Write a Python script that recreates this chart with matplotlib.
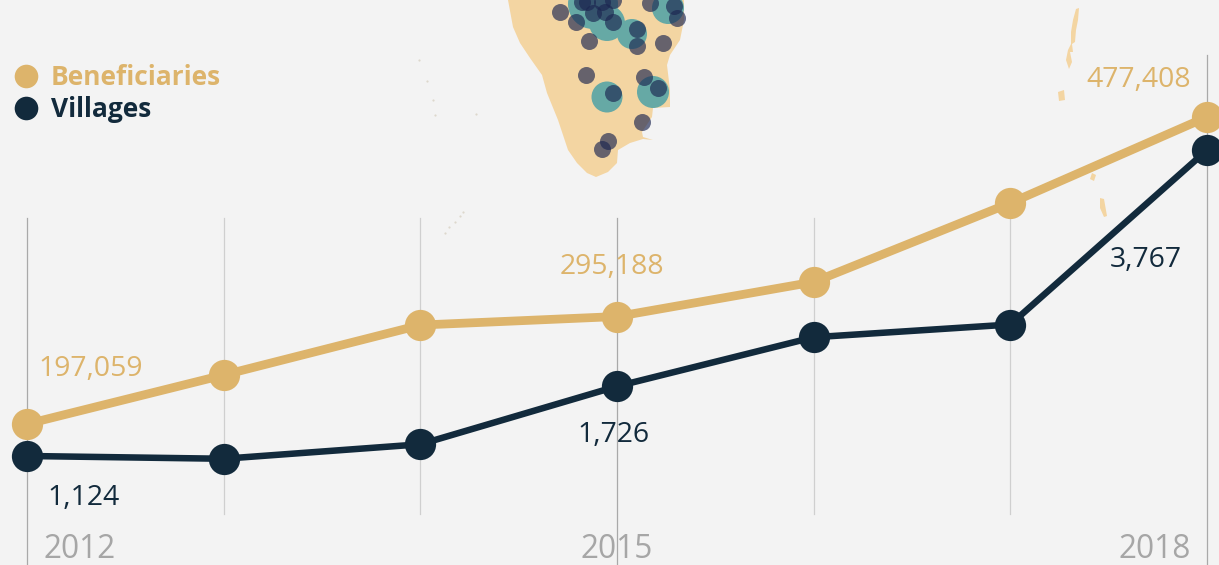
import matplotlib
matplotlib.use("Agg")
import matplotlib.pyplot as plt
from matplotlib.lines import Line2D

# chart data
years = [2012, 2013, 2014, 2015, 2016, 2017, 2018]
beneficiaries = [197059, 241800, 287400, 295188, 326700, 398800, 477408]
villages = [1124, 1100, 1225, 1726, 2150, 2260, 3767]
tick_years = [2012, 2015, 2018]

# backdrop map, traced in picture pixels
coast = [(508, 0), (513, 27), (520, 43), (530, 58), (542, 75), (547, 93), (558, 120),
         (562, 132), (568, 150), (577, 163), (587, 173), (596, 177), (608, 172),
         (617, 163), (618, 150), (630, 143), (643, 139), (653, 140), (643, 137),
         (642, 132), (652, 117), (653, 108), (670, 107), (670, 90), (667, 65),
         (670, 55), (680, 40), (684, 20), (684, 0)]
big_x = [607, 653, 632, 593, 607, 668]
big_y = [97, 92, 34, 4, 23, 8]
big_r = [15.5, 16, 15, 25, 18, 16]
small_x = [560, 576, 589, 613, 637, 637, 663, 586, 613, 644, 658, 642, 608, 602,
           677, 674, 650, 605, 593, 602, 587, 613, 582]
small_y = [12, 22, 41, 22, 29, 46, 43, 75, 93, 77, 88, 122, 141, 149,
           18, 6, 3, 12, 13, 2, 2, 0, 2]
islands = [[(1076, 9), (1079, 8), (1078, 20), (1076, 30), (1075, 42), (1072, 44), (1073, 52),
            (1070, 52), (1072, 62), (1069, 69), (1066, 60), (1068, 50), (1071, 44),
            (1071, 32), (1073, 20)],
           [(1058, 92), (1064, 90), (1065, 100), (1059, 101)],
           [(1100, 198), (1104, 199), (1107, 216), (1104, 217), (1100, 208)],
           [(1092, 173), (1096, 175), (1094, 181), (1090, 179)]]
specks_x = [419, 427, 433, 435, 445, 449, 455, 460, 463, 476]
specks_y = [60, 81, 100, 115, 233, 227, 222, 216, 212, 114]

GOLD = "#DDB46B"
NAVY = "#122A3C"
BG = "#F3F3F3"
plt.rcParams["font.family"] = ["Open Sans", "DejaVu Sans"]

fig = plt.figure(figsize=(12.19, 5.65), dpi=100, facecolor=BG)

# map layer
m = fig.add_axes([0, 0, 1, 1], zorder=0)
m.set_xlim(0, 1219)
m.set_ylim(565, 0)
m.axis("off")
m.fill(*zip(*coast), color="#F3D5A2", lw=0)
for isl in islands:
    m.fill(*zip(*isl), color="#F3D5A2", lw=0)
m.scatter(specks_x, specks_y, s=2.5, color="#DDD8CC", lw=0)
for x, y, r in zip(big_x, big_y, big_r):
    m.add_patch(plt.Circle((x, y), r, color="#66A9A5", lw=0))
m.scatter(small_x, small_y, s=150, color="#1B2550", alpha=0.65, lw=0)

# one y scale per series
ax = fig.add_axes([0, 0, 1, 1], zorder=1)
ax.patch.set_alpha(0)
x_per_px = (2018 - 2012) / (1207 - 27)
ax.set_xlim(2012 - 27 * x_per_px, 2012 + (1219 - 27) * x_per_px)
ax.set_ylim(68326, 584171)
ax.axis("off")
ax2 = fig.add_axes([0, 0, 1, 1], zorder=2, sharex=ax)
ax2.patch.set_alpha(0)
ax2.set_ylim(182, 5064)
ax2.axis("off")

for yr in years:
    if yr in tick_years:
        top = 55 if yr == 2018 else 218
        ax.axvline(yr, ymin=0, ymax=1 - top / 565, color="#A9A9A9", lw=0.9)
    else:
        ax.axvline(yr, ymin=1 - 514 / 565, ymax=1 - 218 / 565, color="#CFCFCF", lw=0.9)

ax.plot(years, beneficiaries, color=GOLD, lw=6.3, marker="o", ms=22.5, mew=0, clip_on=False)
ax2.plot(years, villages, color=NAVY, lw=4.7, marker="o", ms=22.5, mew=0, clip_on=False)

# value labels, offset in pixels from their points
for i, dx, dy in [(0, 64, 55), (3, -5, 50), (6, -68, 37)]:
    ax.annotate(f"{beneficiaries[i]:,}", (years[i], beneficiaries[i]), xytext=(dx, dy),
                textcoords="offset pixels", color=GOLD, fontsize=20.4, ha="center", va="center")
for i, dx, dy in [(0, 57, -42), (3, -4, -49), (6, -61, -110)]:
    ax2.annotate(f"{villages[i]:,}", (years[i], villages[i]), xytext=(dx, dy),
                 textcoords="offset pixels", color=NAVY, fontsize=20.4, ha="center", va="center")

for yr, dx in zip(tick_years, [53, 0, -52]):
    ax.annotate(str(yr), (yr, 0), xycoords=("data", "axes fraction"), xytext=(dx, 16),
                textcoords="offset pixels", color="#A6A6A6", fontsize=22.8, ha="center", va="center")

handles = [Line2D([], [], ls="", marker="o", ms=17, mew=0, color=GOLD),
           Line2D([], [], ls="", marker="o", ms=17, mew=0, color=NAVY)]
leg = ax2.legend(handles, ["Beneficiaries", "Villages"], loc="upper left",
                 bbox_to_anchor=(-0.006, 1 - 48 / 565), frameon=False, borderpad=0, borderaxespad=0.6,
                 handletextpad=0.3, labelspacing=0.2, handlelength=1.3,
                 prop={"weight": "bold", "size": 19})
for t, c in zip(leg.get_texts(), [GOLD, NAVY]):
    t.set_color(c)

fig.savefig("out.png", dpi=100, facecolor=BG)
